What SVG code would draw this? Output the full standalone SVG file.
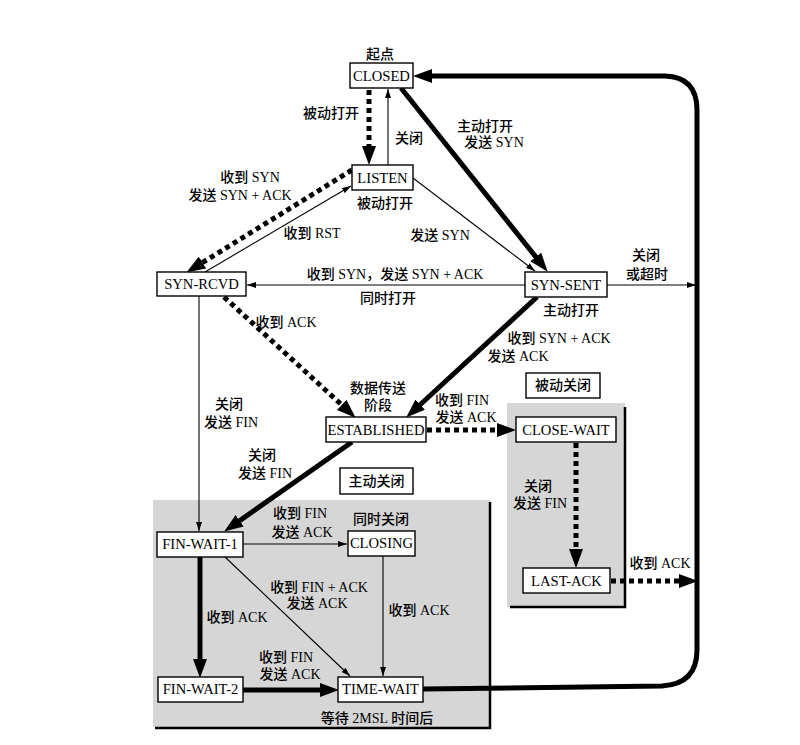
<svg xmlns="http://www.w3.org/2000/svg" width="800" height="745" viewBox="0 0 800 745">
<style>
text{font-family:"Liberation Serif","Noto Sans CJK SC",serif;font-size:14px;fill:#000;text-anchor:middle;font-weight:500}
.n{font-size:14.6px}
.box{fill:#fff;stroke:#000;stroke-width:1.4}
.thin{fill:none;stroke:#000;stroke-width:1.1}
.thick{fill:none;stroke:#000;stroke-width:5}
.dot{fill:none;stroke:#000;stroke-width:5;stroke-dasharray:5 4}
.area{fill:#d6d6d6}
.shadow{fill:none;stroke:#000;stroke-width:2.5}
</style>
<defs>
<marker id="big" markerUnits="userSpaceOnUse" markerWidth="20" markerHeight="14" refX="10" refY="7" orient="auto">
<path d="M0,0 L19,7 L0,14 z" fill="#000"/>
</marker>
<marker id="small" markerUnits="userSpaceOnUse" markerWidth="9" markerHeight="6" refX="9" refY="3" orient="auto">
<path d="M0,0 L9,3 L0,6 z" fill="#000"/>
</marker>
</defs>
<rect width="800" height="745" fill="#fff"/>
<g id="areas">
<rect class="area" x="153" y="500" width="337" height="227"/>
<polyline class="shadow" points="490,502 490,728 155,728"/>
<rect class="area" x="507" y="403" width="118" height="204"/>
<polyline class="shadow" points="625,407 625,607 510,607"/>
</g>
<g id="connectors">
<line class="dot" x1="369" y1="90" x2="369" y2="156" marker-end="url(#big)"/>
<line class="thin" x1="388" y1="165" x2="388" y2="89" marker-end="url(#small)"/>
<line class="thick" x1="401" y1="88" x2="542" y2="264.7" marker-end="url(#big)"/>
<line class="dot" x1="352" y1="170" x2="194" y2="267.8" marker-end="url(#big)"/>
<line class="thin" x1="205" y1="272" x2="351" y2="186" marker-end="url(#small)"/>
<line class="thin" x1="413" y1="178" x2="535" y2="271" marker-end="url(#small)"/>
<line class="thin" x1="525" y1="285" x2="247" y2="285" marker-end="url(#small)"/>
<line class="thin" x1="607" y1="285" x2="696" y2="285" marker-end="url(#small)"/>
<line class="dot" x1="224" y1="297" x2="349" y2="411.6" marker-end="url(#big)"/>
<line class="thick" x1="537" y1="297" x2="412.8" y2="411.5" marker-end="url(#big)"/>
<line class="dot" x1="427" y1="430" x2="507" y2="430" marker-end="url(#big)"/>
<line class="thin" x1="199" y1="296" x2="199" y2="531" marker-end="url(#small)"/>
<line class="thick" x1="352" y1="442" x2="231.5" y2="526.4" marker-end="url(#big)"/>
<line class="dot" x1="576" y1="443" x2="576" y2="559" marker-end="url(#big)"/>
<line class="dot" x1="611" y1="581" x2="689" y2="581" marker-end="url(#big)"/>
<line class="thin" x1="243" y1="544" x2="347" y2="544" marker-end="url(#small)"/>
<line class="thick" x1="200" y1="557" x2="200" y2="669" marker-end="url(#big)"/>
<line class="thin" x1="225" y1="557" x2="350" y2="676" marker-end="url(#small)"/>
<line class="thin" x1="383" y1="556" x2="383" y2="676" marker-end="url(#small)"/>
<line class="thick" x1="243" y1="690" x2="330" y2="690" marker-end="url(#big)"/>
<path class="thick" d="M423,689 L662,686 Q697,684 697,650 L697,110 Q697,77 665,76 L422,76" marker-end="url(#big)"/>
</g>
<g id="labels">
<text x="331" y="118">被动打开</text>
<text x="409" y="143">关闭</text>
<text x="485" y="131">主动打开</text>
<text x="494" y="147">发送 SYN</text>
<text x="385" y="208">被动打开</text>
<text x="250" y="182">收到 SYN</text>
<text x="240" y="200">发送 SYN + ACK</text>
<text x="312" y="238">收到 RST</text>
<text x="440" y="240">发送 SYN</text>
<text x="395" y="279">收到 SYN，发送 SYN + ACK</text>
<text x="388" y="303">同时打开</text>
<text x="646" y="260">关闭</text>
<text x="647" y="279">或超时</text>
<text x="571" y="315">主动打开</text>
<text x="559" y="343">收到 SYN + ACK</text>
<text x="518" y="361">发送 ACK</text>
<text x="286" y="327">收到 ACK</text>
<text x="378" y="393">数据传送</text>
<text x="378" y="410">阶段</text>
<text x="229" y="409">关闭</text>
<text x="231" y="427">发送 FIN</text>
<text x="462" y="405">收到 FIN</text>
<text x="466" y="422">发送 ACK</text>
<text x="262" y="460">关闭</text>
<text x="265" y="478">发送 FIN</text>
<text x="538" y="491">关闭</text>
<text x="540" y="508">发送 FIN</text>
<text x="660" y="568">收到 ACK</text>
<text x="300" y="518">收到 FIN</text>
<text x="302" y="537">发送 ACK</text>
<text x="381" y="524">同时关闭</text>
<text x="319" y="592">收到 FIN + ACK</text>
<text x="317" y="608">发送 ACK</text>
<text x="237" y="622">收到 ACK</text>
<text x="419" y="615">收到 ACK</text>
<text x="286" y="662">收到 FIN</text>
<text x="290" y="679">发送 ACK</text>
<text x="377" y="723">等待 2MSL 时间后</text>
</g>
<g id="closed"><text x="380" y="59">起点</text><rect class="box" x="350" y="63" width="63" height="25"/><text class="n" x="381.5" y="80.5">CLOSED</text></g>
<g id="listen"><rect class="box" x="352" y="165" width="61" height="25"/><text class="n" x="382.5" y="182.5">LISTEN</text></g>
<g id="syn-rcvd"><rect class="box" x="157" y="272" width="89" height="24"/><text class="n" x="201.5" y="289">SYN-RCVD</text></g>
<g id="syn-sent"><rect class="box" x="525" y="272" width="82" height="25"/><text class="n" x="566" y="289.5">SYN-SENT</text></g>
<g id="established"><rect class="box" x="326" y="417" width="100" height="25"/><text class="n" x="376" y="434.5">ESTABLISHED</text></g>
<g id="passive-close"><rect class="box" x="526" y="373" width="74" height="25"/><text x="563" y="390">被动关闭</text></g>
<g id="close-wait"><rect class="box" x="516" y="417" width="100" height="25"/><text class="n" x="566" y="434.5">CLOSE-WAIT</text></g>
<g id="last-ack"><rect class="box" x="523" y="568" width="87" height="25"/><text class="n" x="566.5" y="585.5">LAST-ACK</text></g>
<g id="active-close"><rect class="box" x="340" y="468" width="73" height="26"/><text x="376.5" y="486">主动关闭</text></g>
<g id="fin-wait-1"><rect class="box" x="157" y="532" width="86" height="25"/><text class="n" x="200" y="549">FIN-WAIT-1</text></g>
<g id="closing"><rect class="box" x="348" y="531" width="67" height="25"/><text class="n" x="381.5" y="548">CLOSING</text></g>
<g id="fin-wait-2"><rect class="box" x="158" y="677" width="85" height="25"/><text class="n" x="200.5" y="694">FIN-WAIT-2</text></g>
<g id="time-wait"><rect class="box" x="338" y="677" width="85" height="25"/><text class="n" x="380.5" y="694">TIME-WAIT</text></g>
</svg>
